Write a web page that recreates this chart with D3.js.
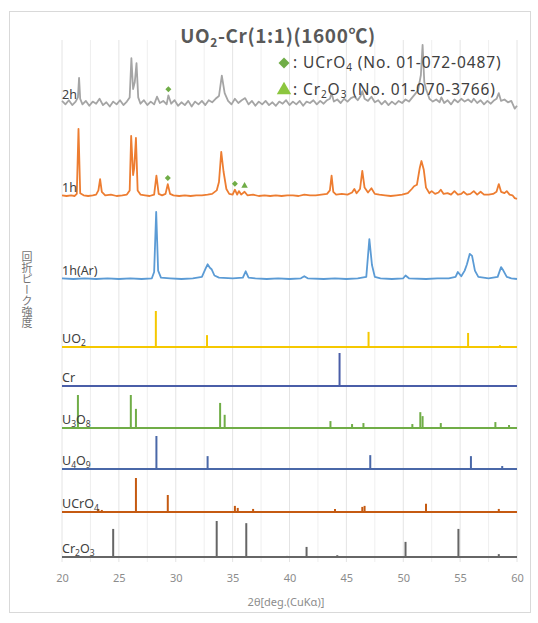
<!DOCTYPE html>
<html>
<head>
<meta charset="utf-8">
<script src="https://cdn.jsdelivr.net/npm/d3@7"></script>
<style>
  body { margin: 0; background: #fff; }
  text { font-family: "Noto Sans", "Noto Sans CJK JP", sans-serif; }
</style>
</head>
<body>
<div id="chart-area"></div>
<script>
// ---------- data ----------
const tickValues = [20, 25, 30, 35, 40, 45, 50, 55, 60];
const gridValues = [20, 22.5, 25, 27.5, 30, 32.5, 35, 37.5, 40, 42.5, 45, 47.5, 50, 52.5, 55, 57.5, 60];

// measured patterns: [2theta, intensity (a.u.)]
const pat2h = [
  [20.0,3],[20.3,-2],[20.6,4],[20.9,-3],[21.2,2],[21.4,8],[21.5,36],[21.6,6],[21.8,-2],[22.1,3],
  [22.4,-4],[22.7,2],[23.0,-1],[23.3,6],[23.6,-3],[23.9,1],[24.2,-5],[24.5,2],[24.8,-2],[25.1,4],
  [25.4,-3],[25.7,2],[25.95,8],[26.1,64],[26.25,20],[26.4,30],[26.55,57],[26.7,8],[26.9,-1],[27.2,4],
  [27.5,-3],[27.8,2],[28.1,-2],[28.35,9],[28.6,0],[28.9,3],[29.2,-2],[29.35,11],[29.6,-1],[29.9,4],
  [30.2,-4],[30.5,1],[30.8,-3],[31.1,3],[31.4,-5],[31.7,2],[32.0,-2],[32.3,3],[32.6,-3],[32.9,4],
  [33.2,1],[33.5,6],[33.8,10],[34.05,39],[34.3,14],[34.6,3],[34.9,-2],[35.2,6],[35.5,0],[35.8,4],
  [36.1,7],[36.4,-2],[36.7,3],[37.0,-4],[37.3,2],[37.6,-2],[37.9,3],[38.2,-3],[38.5,1],[38.8,-4],
  [39.1,2],[39.4,-1],[39.7,4],[40.0,-3],[40.3,2],[40.6,-2],[40.9,3],[41.2,-4],[41.5,2],[41.8,0],
  [42.1,4],[42.4,-2],[42.7,3],[43.0,-1],[43.3,4],[43.55,6],[43.7,14],[43.9,2],[44.2,5],[44.5,0],
  [44.8,6],[45.1,2],[45.4,7],[45.7,9],[46.0,4],[46.25,10],[46.4,17],[46.6,6],[46.9,3],[47.2,9],
  [47.5,1],[47.8,4],[48.1,-2],[48.4,3],[48.7,-3],[49.0,2],[49.3,-2],[49.6,3],[49.9,0],[50.2,5],
  [50.5,2],[50.8,8],[51.0,12],[51.3,18],[51.55,40],[51.7,83],[51.85,30],[52.0,20],[52.3,6],[52.6,2],
  [52.9,5],[53.2,1],[53.35,8],[53.6,0],[53.9,4],[54.2,-2],[54.5,5],[54.8,1],[55.1,6],[55.4,2],
  [55.7,5],[56.0,1],[56.2,6],[56.5,0],[56.8,4],[57.1,-2],[57.4,3],[57.7,-1],[58.0,4],[58.2,6],
  [58.4,14],[58.6,3],[58.9,5],[59.2,1],[59.5,3],[59.8,-8],[60.0,-4]
];

const pat1h = [
  [20.0,1],[20.4,0],[20.8,1],[21.1,0],[21.3,3],[21.45,96],[21.6,4],[21.9,1],[22.3,0],[22.7,1],
  [23.0,2],[23.2,8],[23.35,24],[23.5,6],[23.8,1],[24.3,2],[24.8,0],[25.3,1],[25.7,2],[25.95,8],
  [26.08,86],[26.25,30],[26.35,40],[26.5,83],[26.65,8],[26.9,2],[27.3,1],[27.7,0],[28.1,2],[28.3,29],
  [28.5,3],[28.8,1],[29.1,3],[29.3,17],[29.5,3],[29.8,1],[30.3,0],[30.8,1],[31.3,0],[31.8,1],
  [32.3,1],[32.8,2],[33.2,3],[33.6,8],[33.8,20],[34.0,63],[34.2,35],[34.45,10],[34.7,3],[35.0,2],
  [35.2,9],[35.4,2],[35.55,7],[35.75,2],[36.05,6],[36.3,1],[36.8,2],[37.3,0],[37.8,1],[38.3,0],
  [38.8,1],[39.3,0],[39.8,1],[40.3,1],[40.8,0],[41.3,2],[41.8,1],[42.3,1],[42.8,2],[43.3,3],
  [43.55,8],[43.7,29],[43.85,6],[44.1,2],[44.6,3],[45.1,2],[45.5,5],[45.7,10],[45.9,4],[46.2,10],
  [46.4,36],[46.6,12],[46.9,5],[47.2,11],[47.5,3],[47.9,2],[48.4,1],[48.9,0],[49.4,1],[49.9,2],
  [50.4,4],[50.75,10],[50.95,14],[51.2,16],[51.45,40],[51.6,50],[51.8,38],[52.0,12],[52.3,4],[52.5,7],
  [52.8,3],[53.1,5],[53.3,9],[53.55,3],[53.9,4],[54.2,2],[54.5,7],[54.8,2],[55.1,3],[55.3,6],
  [55.6,2],[55.9,3],[56.2,7],[56.5,2],[56.8,6],[57.1,2],[57.5,2],[57.9,3],[58.2,6],[58.4,17],
  [58.6,6],[58.9,4],[59.1,7],[59.35,2],[59.6,1],[59.8,-3],[60.0,-4]
];

const pat1hAr = [
  [20.0,1],[21.0,0],[22.0,1],[23.0,0],[24.0,1],[25.0,0],[26.0,1],[27.0,0],[27.9,1],[28.1,10],
  [28.28,96],[28.45,12],[28.7,2],[29.5,1],[30.5,0],[31.5,1],[32.3,3],[32.6,14],[32.8,21],[33.0,16],
  [33.15,14],[33.4,5],[33.8,2],[35.0,1],[35.9,2],[36.15,11],[36.4,2],[37.0,1],[38.0,0],[39.0,1],
  [40.0,0],[41.0,1],[41.3,4],[41.6,1],[43.0,0],[44.0,1],[45.0,0],[46.0,1],[46.75,3],[47.02,57],
  [47.25,20],[47.5,3],[48.0,1],[49.0,0],[50.0,1],[50.2,5],[50.5,1],[52.0,0],[53.0,1],[54.0,1],
  [54.6,3],[54.8,10],[55.1,4],[55.4,12],[55.6,21],[55.85,36],[56.05,33],[56.3,12],[56.6,3],[57.5,1],
  [58.3,3],[58.6,17],[58.8,12],[59.1,3],[59.5,1],[60.0,0]
];

// reference (ICDD) stick patterns: [2theta, relative intensity]
const refUO2  = [[28.25,100],[32.75,33],[46.95,42],[55.7,39],[58.5,5]];
const refCr   = [[44.4,100]];
const refU3O8 = [[21.4,100],[26.05,100],[26.5,58],[33.9,76],[34.3,40],[43.6,21],[45.5,12],[46.5,15],
                 [50.8,12],[51.5,48],[51.7,36],[53.3,15],[58.1,18],[59.3,9]];
const refU4O9 = [[28.3,100],[32.8,39],[47.1,42],[55.95,39],[58.7,9]];
const refUCrO4 = [[23.2,9],[23.5,6],[26.5,100],[29.3,50],[35.2,18],[35.45,12],[36.8,9],[44.0,9],
                  [46.4,15],[46.6,18],[52.0,24],[58.4,9]];
const refCr2O3 = [[24.5,78],[33.6,100],[36.2,94],[39.8,3],[41.5,28],[44.2,5],[50.2,42],[54.85,78],[58.4,8]];

// phase markers on measured patterns: [pattern, 2theta, intensity, kind]
const markers = [
  ["2h", 29.35, 11, "diamond"],
  ["1h", 29.3, 17, "diamond"],
  ["1h", 35.2, 9, "diamond"],
  ["1h", 36.05, 6, "triangle"]
];

const legendItems = [
  ["diamond", ": UCrO", "4", " (No. 01-072-0487)"],
  ["triangle", ": Cr", "2", "O", "3", " (No. 01-070-3766)"]
];

// ---------- layout ----------
const W = 538, H = 623;
const panels = [
  {name: "2h",     label: [["2h"]],                      data: pat2h,    kind: "line", base: 103, h: 70, color: "#a5a5a5", lw: 1.8},
  {name: "1h",     label: [["1h"]],                      data: pat1h,    kind: "line", base: 196, h: 70, color: "#ed7d31", lw: 1.8},
  {name: "1h(Ar)", label: [["1h(Ar)"]],                  data: pat1hAr,  kind: "line", base: 279, h: 70, color: "#5b9bd5", lw: 1.8},
  {name: "UO2",    label: [["UO"],["2",1]],              data: refUO2,   kind: "stick", base: 347, h: 36, color: "#f5c800"},
  {name: "Cr",     label: [["Cr"]],                      data: refCr,    kind: "stick", base: 386, h: 33, color: "#4a5ea8"},
  {name: "U3O8",   label: [["U"],["3",1],["O"],["8",1]], data: refU3O8,  kind: "stick", base: 428, h: 33, color: "#70ad47"},
  {name: "U4O9",   label: [["U"],["4",1],["O"],["9",1]], data: refU4O9,  kind: "stick", base: 469, h: 33, color: "#4a68a8"},
  {name: "UCrO4",  label: [["UCrO"],["4",1]],            data: refUCrO4, kind: "stick", base: 512, h: 34, color: "#c55a11"},
  {name: "Cr2O3",  label: [["Cr"],["2",1],["O"],["3",1]],data: refCr2O3, kind: "stick", base: 557, h: 36, color: "#666666"}
];

const svg = d3.select("#chart-area").append("svg")
    .attr("width", W)
    .attr("height", H);

svg.append("rect")
    .attr("x", 9.5).attr("y", 11.5)
    .attr("width", 521).attr("height", 601)
    .attr("fill", "#fff")
    .attr("stroke", "#d9d9d9");

const x = d3.scaleLinear().domain([20, 60]).range([62, 517]);

// grid
svg.append("g").selectAll("line")
    .data(gridValues)
    .enter().append("line")
    .attr("x1", d => x(d)).attr("x2", d => x(d))
    .attr("y1", 40).attr("y2", 562)
    .attr("stroke", d => d % 5 === 0 ? "#e4e4e4" : "#efefef")
    .attr("stroke-width", 1);

// x axis
const xAxis = svg.append("g")
    .attr("transform", "translate(0,571)")
    .call(d3.axisBottom(x).tickValues(tickValues).tickSize(0).tickFormat(d3.format("d")));
xAxis.select(".domain").remove();
xAxis.selectAll("text")
    .attr("fill", "#8c8c8c")
    .attr("font-size", "11px")
    .style("font-family", "'Noto Sans', sans-serif");

svg.append("text")
    .attr("x", 286).attr("y", 606)
    .attr("text-anchor", "middle")
    .attr("font-size", "11px")
    .attr("fill", "#8c8c8c")
    .text("2θ[deg.(CuKα)]");

// y axis title (vertical japanese)
svg.append("text")
    .attr("x", 27).attr("y", 290)
    .attr("text-anchor", "middle")
    .attr("font-size", "11px")
    .attr("fill", "#737373")
    .style("font-family", "'Noto Sans CJK JP', sans-serif")
    .style("writing-mode", "vertical-rl")
    .text("回折ピーク強度");

// panels
panels.forEach(p => {
    const y = d3.scaleLinear().domain([0, 100]).range([p.base, p.base - p.h]);
    p.y = y;
    const g = svg.append("g");
    if (p.kind === "line") {
        g.append("path")
            .datum(p.data)
            .attr("fill", "none")
            .attr("stroke", p.color)
            .attr("stroke-width", p.lw)
            .attr("stroke-linejoin", "round")
            .attr("d", d3.line().x(d => x(d[0])).y(d => y(d[1])));
    } else {
        g.append("line")
            .attr("x1", x(20)).attr("x2", x(60))
            .attr("y1", y(0)).attr("y2", y(0))
            .attr("stroke", p.color)
            .attr("stroke-width", 2);
        g.selectAll("line.stick")
            .data(p.data)
            .enter().append("line")
            .attr("class", "stick")
            .attr("x1", d => x(d[0])).attr("x2", d => x(d[0]))
            .attr("y1", y(0)).attr("y2", d => y(d[1]))
            .attr("stroke", p.color)
            .attr("stroke-width", 2);
    }
    const t = g.append("text")
        .attr("x", 62).attr("y", p.base - 4)
        .attr("font-size", "12.5px")
        .attr("fill", "#404040");
    p.label.forEach(part => {
        const ts = t.append("tspan").text(part[0]);
        if (part[1]) ts.attr("font-size", "8.5px").attr("dy", 3);
        else if (t.selectAll("tspan").size() > 1) ts.attr("dy", -3);
    });
});

// markers
const sym = {diamond: d3.symbolSquare, triangle: d3.symbolTriangle};
const rot = {diamond: 45, triangle: 0};
const pByName = {};
panels.forEach(p => pByName[p.name] = p);
svg.append("g").selectAll("path")
    .data(markers)
    .enter().append("path")
    .attr("transform", d => `translate(${x(d[1])},${pByName[d[0]].y(d[2]) - 6}) rotate(${rot[d[3]]})`)
    .attr("d", d => d3.symbol().type(sym[d[3]]).size(18)())
    .attr("fill", "#70ad47");

// title
const title = svg.append("text")
    .attr("x", 278).attr("y", 43)
    .attr("text-anchor", "middle")
    .attr("font-size", "19px")
    .attr("font-weight", "bold")
    .attr("letter-spacing", "0.6px")
    .attr("fill", "#595959")
    .style("font-family", "'Noto Sans CJK JP', sans-serif");
title.append("tspan").text("UO");
title.append("tspan").text("2").attr("font-size", "12px").attr("dy", 4);
title.append("tspan").text("-Cr(1:1)(1600℃)").attr("dy", -4);

// legend
legendItems.forEach((item, i) => {
    const ly = 63 + i * 27;
    svg.append("path")
        .attr("transform", `translate(284,${ly}) rotate(${rot[item[0]]})`)
        .attr("d", d3.symbol().type(sym[item[0]]).size(i === 0 ? 60 : 90)())
        .attr("fill", i === 0 ? "#70ad47" : "#8cc63f");
    const t = svg.append("text")
        .attr("x", 293).attr("y", ly + 5)
        .attr("font-size", "15.5px")
        .attr("letter-spacing", "0.9px")
        .attr("fill", "#404040");
    item.slice(1).forEach((s, k) => {
        const ts = t.append("tspan").text(s);
        if (/^\d$/.test(s)) ts.attr("font-size", "10px").attr("dy", 3);
        else if (k > 0) ts.attr("dy", -3);
    });
});
</script>
</body>
</html>
